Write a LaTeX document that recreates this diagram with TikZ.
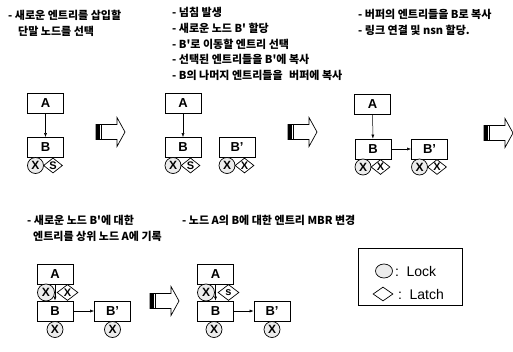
\documentclass[tikz,border=0pt]{standalone}
\usepackage{fontspec}
\setmainfont{Liberation Sans}
\newfontfamily\kr{Noto Sans CJK KR}
\usetikzlibrary{arrows.meta,shapes.geometric}
\tikzset{
  box/.style={draw,line width=0.7pt,minimum width=36pt,minimum height=20pt,inner sep=0pt,font=\fontsize{13}{13}\selectfont\bfseries},
  lockc/.style={draw,circle,line width=0.7pt,fill=gray!15,minimum size=16pt,inner sep=0pt,font=\fontsize{12}{12}\selectfont\bfseries},
  latchd/.style={draw,diamond,line width=0.7pt,fill=white,minimum width=19pt,minimum height=15pt,inner sep=0pt,font=\fontsize{11}{11}\selectfont\bfseries},
  link/.style={line width=0.5pt,-{Latex[length=4pt,width=3pt]}},
  txt/.style={anchor=west,inner sep=0pt,font=\kr\bfseries\fontsize{11}{11}\selectfont},
  legtxt/.style={anchor=west,inner sep=0pt,font=\fontsize{14}{14}\selectfont},
  bigarrow/.pic={
    \draw[line width=0.7pt,fill=white] (0,-7.5) -- (21,-7.5) -- (21,-14.5) -- (29,0) -- (21,14.5) -- (21,7.5) -- (0,7.5) -- cycle;
    \fill (0,-7.5) rectangle (3.5,7.5);
    \draw[line width=0.5pt] (5,-7.5) -- (5,7.5);
  }
}
\begin{document}
\begin{tikzpicture}[x=1pt,y=-1pt]
\useasboundingbox (0,0) rectangle (513,352);

% ---- texts
\node[txt] (t1) at (8,15) {- 새로운 엔트리를 삽입할};
\node[txt] (t2) at (18,31) {단말 노드를 선택};
\node[txt] (m1) at (172,12.5) {- 넘침 발생};
\node[txt] (m2) at (172,28) {- 새로운 노드 B' 할당};
\node[txt] (m3) at (172,44) {- B'로 이동할 엔트리 선택};
\node[txt] (m4) at (172,59.5) {- 선택된 엔트리들을 B'에 복사};
\node[txt] (m5) at (172,75) {- B의 나머지 엔트리들을\hspace{4pt} 버퍼에 복사};
\node[txt] (r1) at (358,14) {- 버퍼의 엔트리들을 B로 복사};
\node[txt] (r2) at (358,30) {- 링크 연결 및 nsn 할당.};
\node[txt] (b1) at (27,220) {- 새로운 노드 B'에 대한};
\node[txt] (b2) at (33,236) {엔트리를 상위 노드 A에 기록};
\node[txt] (b3) at (182,220) {- 노드 A의 B에 대한 엔트리 MBR 변경};

% ---- panel 1
\node[box] (A1) at (45.5,103) {A};
\node[box] (B1) at (45.5,147.5) {B};
\node[lockc] (L1) at (35.5,165.5) {X};
\node[latchd] (D1) at (53,165.5) {S};
\draw[link] (A1) -- (B1);

\pic at (96,132) {bigarrow};

% ---- panel 2
\node[box] (A2) at (183,103) {A};
\node[box] (B2) at (183,147.5) {B};
\node[box] (C2) at (237,147.5) {B'};
\node[lockc] (L2) at (173,165.5) {X};
\node[latchd] (D2) at (190.5,165.5) {S};
\node[lockc] (L2b) at (227,165.5) {X};
\node[latchd] (D2b) at (244.5,165.5) {X};
\draw[link] (A2) -- (B2);

\pic at (288,132) {bigarrow};

% ---- panel 3
\node[box] (A3) at (372.5,104) {A};
\node[box] (B3) at (373,149) {B};
\node[box] (C3) at (429.5,149) {B'};
\node[lockc] (L3) at (363,167) {X};
\node[latchd] (D3) at (380.5,167) {X};
\node[lockc] (L3b) at (419.5,167) {X};
\node[latchd] (D3b) at (437,167) {X};
\draw[link] (A3) -- (B3);
\draw[link] (B3) -- (C3);

\pic at (484,133) {bigarrow};

% ---- panel 4
\node[box] (A4) at (55,274) {A};
\node[box] (B4) at (55,311) {B};
\node[box] (C4) at (112.5,311) {B'};
\node[lockc,minimum size=17pt] (L4) at (46,292.5) {X};
\node[latchd,minimum width=21pt,minimum height=16pt] (D4) at (67.5,292.5) {X};
\node[lockc] (L4b) at (55,329.5) {X};
\node[lockc] (L4c) at (112.5,329.5) {X};
\draw[link] (A4) -- (B4);
\draw[link] (B4) -- (C4);

\pic at (150,301) {bigarrow};

% ---- panel 5
\node[box] (A5) at (215.5,274) {A};
\node[box] (B5) at (215.5,311) {B};
\node[box] (C5) at (272,311) {B'};
\node[lockc,minimum size=17pt] (L5) at (206,292.5) {X};
\node[latchd,minimum width=21pt,minimum height=16pt] (D5) at (228.5,292.5) {s};
\node[lockc] (L5b) at (214,329.5) {X};
\node[lockc] (L5c) at (272,329.5) {X};
\draw[link] (A5) -- (B5);
\draw[link] (B5) -- (C5);

% ---- legend
\node[draw,line width=0.7pt,minimum width=104pt,minimum height=57pt,inner sep=0pt] (leg) at (410,276.5) {};
\node[lockc,ellipse,minimum width=17pt,minimum height=14pt] (lk) at (384,271) {};
\node[legtxt] (lkt) at (395,271) {:\, Lock};
\node[latchd,minimum width=20pt,minimum height=14pt] (lt) at (383,294) {};
\node[legtxt] (ltt) at (398,294) {:\, Latch};
\end{tikzpicture}
\end{document}
